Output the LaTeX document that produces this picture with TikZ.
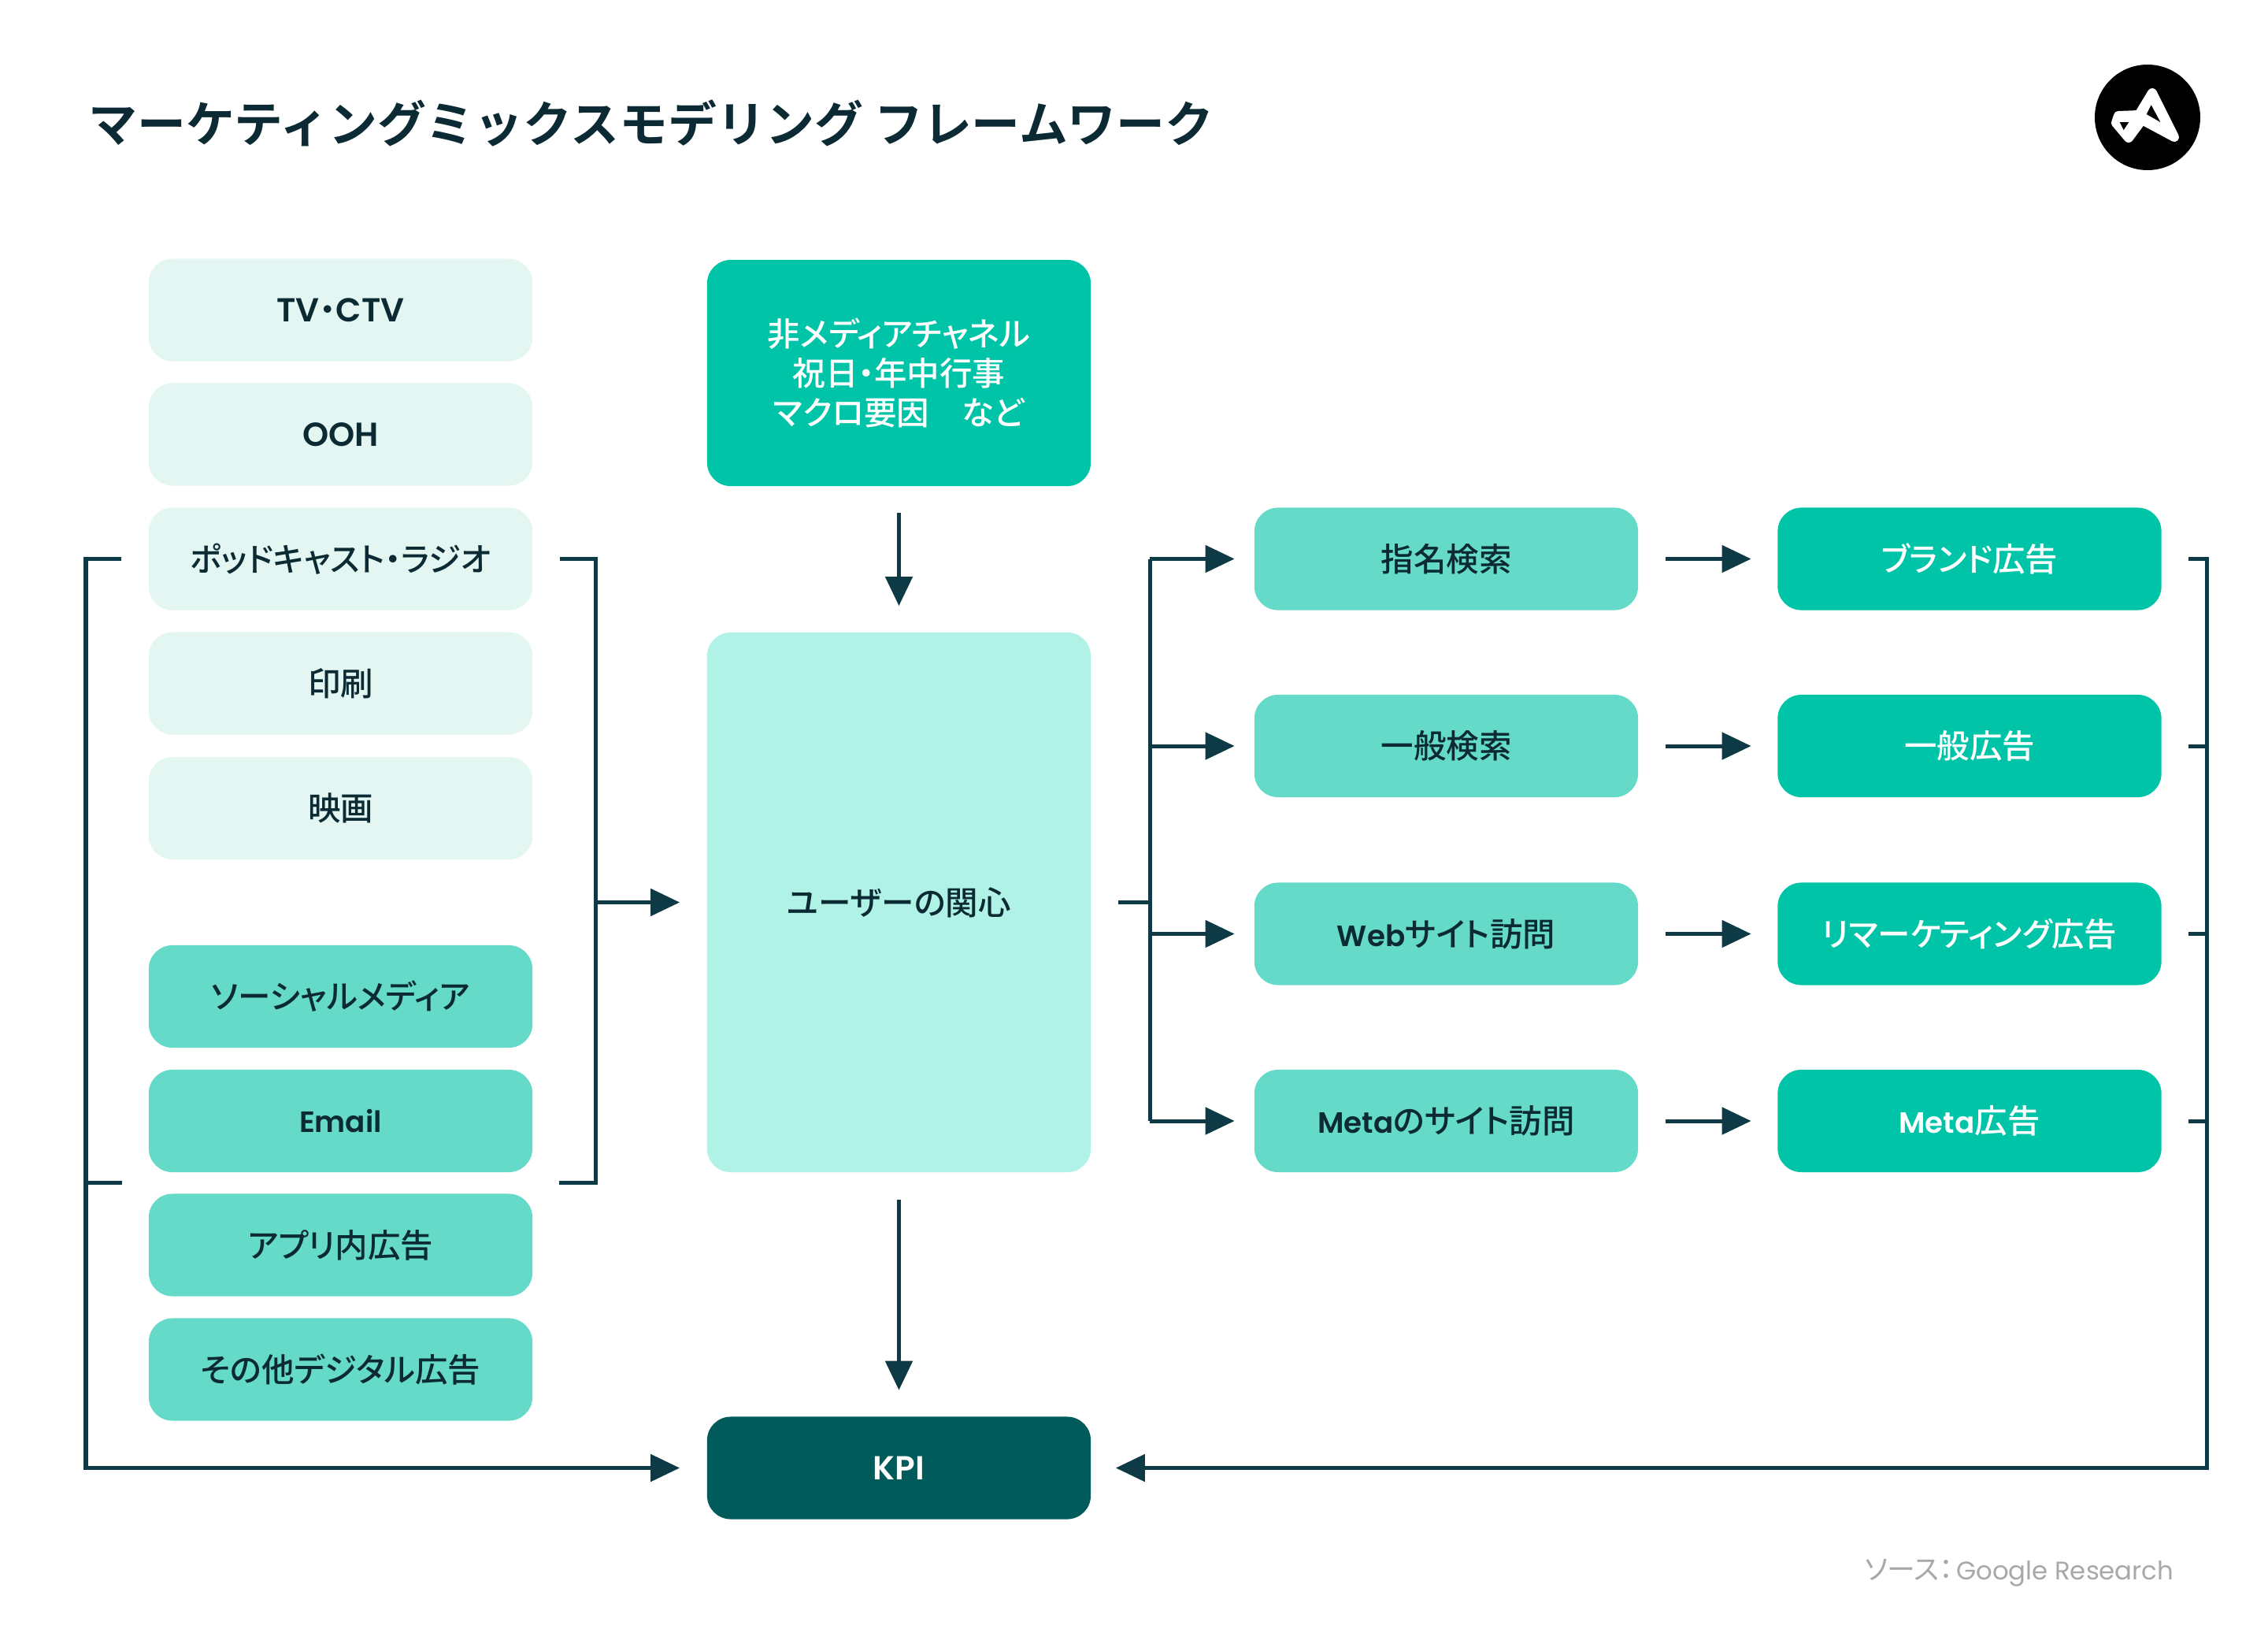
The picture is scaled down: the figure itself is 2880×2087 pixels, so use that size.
\documentclass[tikz,border=0pt]{standalone}
\usepackage{fontspec}
\usepackage{xcolor}
\usetikzlibrary{arrows.meta}
\setmainfont{Noto Sans CJK JP}
\newfontfamily\titlefont{Noto Sans CJK JP Bold}
\newfontfamily\boxfont{Noto Sans CJK JP Medium}[RawFeature=+palt]
\newfontfamily\latfont{Poppins SemiBold}
\newfontfamily\srcfont{Poppins}
\newfontfamily\srccjk{Noto Sans CJK JP}[RawFeature=+palt]
\newcommand{\lat}[1]{{\latfont\fontsize{10.6pt}{14.2pt}\selectfont #1}}
\newcommand{\latcap}[1]{{\latfont\fontsize{12pt}{14.2pt}\selectfont #1}}
\definecolor{palebox}{HTML}{E3F6F1}
\definecolor{midbox}{HTML}{66DAC8}
\definecolor{strongbox}{HTML}{00C4A7}
\definecolor{interestbox}{HTML}{B0F3E6}
\definecolor{kpibox}{HTML}{005B5A}
\definecolor{linecol}{HTML}{0E3A46}
\definecolor{inkcol}{HTML}{0B2A33}
\definecolor{sourcecol}{HTML}{A8A8A8}
\tikzset{
	basebox/.style={rounded corners=0.3cm,minimum width=4.87cm,minimum height=1.3cm,inner sep=0pt,align=center,font=\boxfont\fontsize{11.8pt}{14.2pt}\selectfont,text=inkcol},
	palenode/.style={basebox,fill=palebox},
	midnode/.style={basebox,fill=midbox},
	strongnode/.style={basebox,fill=strongbox,text=white},
	conn/.style={line width=0.05cm,draw=linecol,line join=miter},
	arr/.style={conn,-{Triangle[length=0.37cm,width=0.34cm]}},
}
\begin{document}
\begin{tikzpicture}[x=0.01cm,y=-0.01cm]
	\useasboundingbox (0,0) rectangle (2880,2087);
	\node[anchor=west,inner sep=0pt,text=inkcol,font=\titlefont\fontsize{17.6pt}{20pt}\selectfont] (title) at (112,156) {マーケティングミックスモデリング フレームワーク};

	\fill[black] (2727,149) circle (67);
	\fill[white,draw=white,line width=0.12cm,line join=round] (2733,118) -- (2761,174) -- (2720,152) -- (2703,175) -- (2687,156) -- (2690,147) -- (2716,146) -- cycle;
	\fill[black] (2731.7,133.3) -- (2743.3,155) -- (2725.7,145) -- cycle;
	\fill[black] (2691.7,155) -- (2703.3,155) -- (2696.7,165) -- cycle;

	\node[palenode] (tv) at (432.5,393.5) {\latcap{TV}・\latcap{CTV}};
	\node[palenode] (ooh) at (432.5,551.5) {\latcap{OOH}};
	\node[palenode] (pod) at (432.5,709.5) {ポッドキャスト・ラジオ};
	\node[palenode] (print) at (432.5,867.5) {印刷};
	\node[palenode] (movie) at (432.5,1026) {映画};
	\node[midnode] (social) at (432.5,1265) {ソーシャルメディア};
	\node[midnode] (email) at (432.5,1423) {\lat{Email}};
	\node[midnode] (inapp) at (432.5,1580.5) {アプリ内広告};
	\node[midnode] (other) at (432.5,1738.5) {その他デジタル広告};

	\node[strongnode,minimum height=2.87cm] (nonmedia) at (1141.5,473.5) {非メディアチャネル\\祝日・年中行事\\マクロ要因　など};
	\node[basebox,fill=interestbox,minimum height=6.85cm] (interest) at (1141.5,1145.5) {ユーザーの関心};
	\node[strongnode,fill=kpibox] (kpi) at (1141.5,1863.5) {\latcap{KPI}};

	\node[midnode] (brandsearch) at (1836.5,709.5) {指名検索};
	\node[midnode] (gensearch) at (1836.5,947) {一般検索};
	\node[midnode] (webvisit) at (1836.5,1185.5) {\lat{Web}サイト訪問};
	\node[midnode] (metavisit) at (1836.5,1423) {\lat{Meta}のサイト訪問};

	\node[strongnode] (brandad) at (2501,709.5) {ブランド広告};
	\node[strongnode] (genad) at (2501,947) {一般広告};
	\node[strongnode] (remarket) at (2501,1185.5) {リマーケティング広告};
	\node[strongnode] (metaad) at (2501,1423) {\lat{Meta}広告};

	\node[anchor=east,inner sep=0pt,text=sourcecol,font=\srccjk\fontsize{10.2pt}{12pt}\selectfont] (source) at (2761,1997) {ソース：\hspace{1pt}{\srcfont\fontsize{9.2pt}{12pt}\selectfont Google Research}};

	\coordinate (lefttop) at (109,709.5);
	\coordinate (leftjoin) at (109,1501);
	\coordinate (leftstub) at (155,1501);
	\coordinate (leftbot) at (109,1863.5);
	\coordinate (brackettop) at (756,709.5);
	\coordinate (bracketmid) at (756,1145.5);
	\coordinate (bracketbot) at (756,1501);
	\coordinate (bracketstub) at (710,1501);
	\coordinate (busmid) at (1460,1145.5);
	\coordinate (bustop) at (1460,709.5);
	\coordinate (busgen) at (1460,947);
	\coordinate (busweb) at (1460,1185.5);
	\coordinate (busbot) at (1460,1423);
	\coordinate (righttop) at (2802,709.5);
	\coordinate (rightgen) at (2802,947);
	\coordinate (rightweb) at (2802,1185.5);
	\coordinate (rightmeta) at (2802,1423);
	\coordinate (rightbot) at (2802,1863.5);

	\draw[arr,shorten <=0.34cm,shorten >=0.34cm] (pod.west) -- (lefttop) -- (leftbot) -- (kpi.west);
	\draw[conn] (leftstub) -- (leftjoin);
	\draw[conn,shorten <=0.34cm] (pod.east) -- (brackettop) -- (bracketbot) -- (bracketstub);
	\draw[arr,shorten >=0.34cm] (bracketmid) -- (interest.west);

	\draw[arr,shorten <=0.33cm,shorten >=0.33cm] (nonmedia) -- (interest);
	\draw[arr,shorten <=0.34cm,shorten >=0.33cm] (interest) -- (kpi);

	\draw[conn,shorten <=0.34cm] (interest.east) -- (busmid);
	\draw[conn] (bustop) -- (busbot);
	\draw[arr,shorten >=0.245cm] (bustop) -- (brandsearch.west);
	\draw[arr,shorten >=0.245cm] (busgen) -- (gensearch.west);
	\draw[arr,shorten >=0.245cm] (busweb) -- (webvisit.west);
	\draw[arr,shorten >=0.245cm] (busbot) -- (metavisit.west);

	\draw[arr,shorten <=0.34cm,shorten >=0.33cm] (brandsearch) -- (brandad);
	\draw[arr,shorten <=0.34cm,shorten >=0.33cm] (gensearch) -- (genad);
	\draw[arr,shorten <=0.34cm,shorten >=0.33cm] (webvisit) -- (remarket);
	\draw[arr,shorten <=0.34cm,shorten >=0.33cm] (metavisit) -- (metaad);

	\draw[arr,shorten <=0.34cm,shorten >=0.31cm] (brandad.east) -- (righttop) -- (rightbot) -- (kpi.east);
	\draw[conn,shorten <=0.34cm] (genad.east) -- (rightgen);
	\draw[conn,shorten <=0.34cm] (remarket.east) -- (rightweb);
	\draw[conn,shorten <=0.34cm] (metaad.east) -- (rightmeta);
\end{tikzpicture}
\end{document}
